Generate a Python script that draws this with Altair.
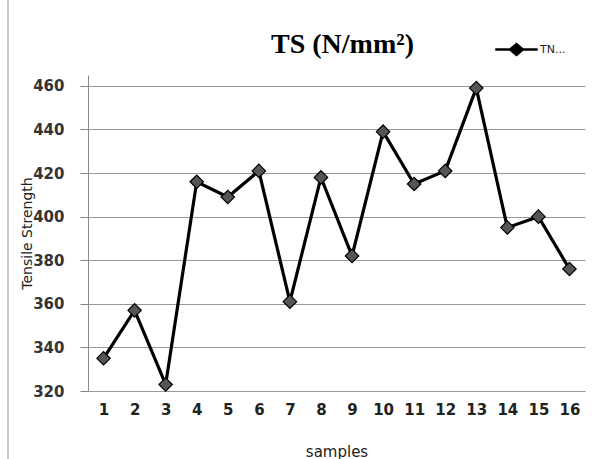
import altair as alt
import pandas as pd

samples = list(range(1, 17))
ts = [335, 357, 323, 416, 409, 421, 361, 418, 382, 439, 415, 421, 459, 395, 400, 376]
series = ["TN..."] * 16
y_ticks = [320, 340, 360, 380, 400, 420, 440, 460]

df = pd.DataFrame({"samples": samples, "ts": ts, "series": series})

legend_path = "M-1.5,0L-0.45,0M0.45,0L1.5,0M-0.45,0L0,-0.38L0.45,0L0,0.38Z"

base = alt.Chart(df)

line = base.mark_line(
    color="black", strokeWidth=3.2,
    point=alt.OverlayMarkDef(shape="diamond", size=180, filled=True,
                             fill="#555555", stroke="black", strokeWidth=1.2, opacity=1),
).encode(
    x=alt.X("samples:O", scale=alt.Scale(type="point", padding=0.5),
            axis=alt.Axis(title="samples", labelAngle=0, ticks=False, domain=False,
                          labelFont="DejaVu Sans", labelFontSize=15, labelFontWeight="bold",
                          labelColor="#222", labelPadding=11,
                          titleFont="DejaVu Sans", titleFontSize=15, titleFontWeight="normal",
                          titleColor="#222", titlePadding=27, grid=False)),
    y=alt.Y("ts:Q", scale=alt.Scale(domain=[320, 465], nice=False, zero=False),
            axis=alt.Axis(title="Tensile Strength", values=y_ticks,
                          labelFont="DejaVu Sans", labelFontSize=15, labelFontWeight="bold",
                          labelColor="#333", labelPadding=16,
                          tickSize=8, tickColor="#888", domainColor="#888",
                          gridColor="#999", gridWidth=1,
                          titleFont="DejaVu Sans", titleFontSize=14, titleFontWeight="normal",
                          titleColor="#222", titleX=-54)),
    color=alt.Color("series:N", scale=alt.Scale(range=["black"]),
                    legend=alt.Legend(title=None, orient="none", legendX=413, legendY=-41,
                                      symbolType=legend_path, symbolSize=800,
                                      symbolStrokeWidth=2.5, symbolFillColor="#555555",
                                      symbolStrokeColor="black", labelOffset=8,
                                      labelFont="DejaVu Sans", labelFontSize=11,
                                      labelFontWeight="normal", labelColor="#222")),
)

border = alt.Chart(pd.DataFrame({"b": [0]})).mark_rule(color="#999", strokeWidth=1).encode(
    x=alt.value(-80), y=alt.value(-75), y2=alt.value(384)
)

chart = alt.layer(border, line).properties(
    width=497, height=316,
    autosize=alt.AutoSizeParams(type="none"),
    padding={"left": 88, "top": 75, "right": 30, "bottom": 68},
    title=alt.Title(text="TS (N/mm²)", font="Liberation Serif", fontSize=28,
                    fontWeight="bold", color="black", anchor="middle", offset=18, dx=6, dy=77),
    background="white",
).configure_view(stroke=None)

chart.save("out.html", embed_options={"renderer": "svg", "actions": False})
